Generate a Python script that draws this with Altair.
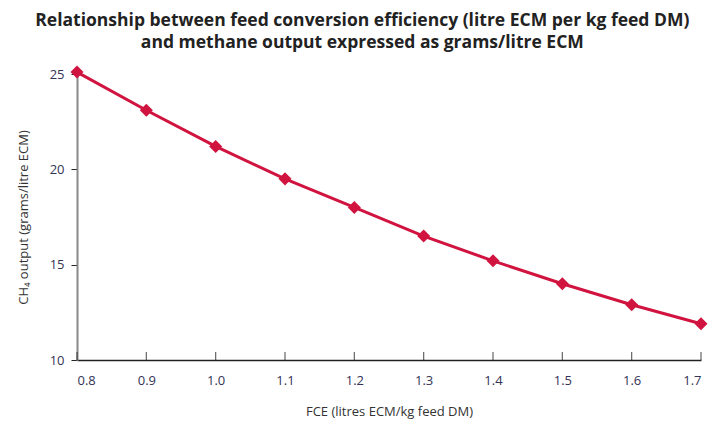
import altair as alt
import pandas as pd

fce = [0.8, 0.9, 1.0, 1.1, 1.2, 1.3, 1.4, 1.5, 1.6, 1.7]
ch4 = [25.1, 23.1, 21.2, 19.5, 18.0, 16.5, 15.2, 14.0, 12.9, 11.9]
x_ticks = [0.8, 0.9, 1.0, 1.1, 1.2, 1.3, 1.4, 1.5, 1.6, 1.7]
y_ticks = [10, 15, 20, 25]

df = pd.DataFrame({"fce": fce, "ch4": ch4})
tick_df = pd.DataFrame({"fce": x_ticks, "ch4": [10] * len(x_ticks)})

FONT = "Open Sans"
RED = "#D0143F"

x = alt.X("fce:Q", scale=alt.Scale(domain=[0.8, 1.7], nice=False, zero=False),
          axis=alt.Axis(values=x_ticks, format=".1f", title="FCE (litres ECM/kg feed DM)",
                        tickSize=0, labelPadding=14, titlePadding=18,
                        domainColor="#222222", domainWidth=1.5, grid=False))
y = alt.Y("ch4:Q", scale=alt.Scale(domain=[10, 25], nice=False, zero=False),
          axis=alt.Axis(values=y_ticks, title="CH₄ output (grams/litre ECM)",
                        tickSize=6, tickColor="#222222", labelPadding=7, titlePadding=19,
                        domainColor="#888888", domainWidth=2, grid=False))

line = alt.Chart(df).mark_line(color=RED, strokeWidth=3, clip=False).encode(x=x, y=y)
pts = alt.Chart(df).mark_point(shape="diamond", filled=True, color=RED, size=170,
                               opacity=1, clip=False).encode(x="fce:Q", y="ch4:Q")
ticks = alt.Chart(tick_df).mark_tick(orient="vertical", color="#222222", size=8,
                                     thickness=1.2, yOffset=-4).encode(x="fce:Q", y="ch4:Q")

chart = (ticks + line + pts).properties(
    width=624, height=286,
    padding={"left": 9, "right": 0, "top": 3, "bottom": 2},
    title=alt.TitleParams(
        ["Relationship between feed conversion efficiency (litre ECM per kg feed DM)",
         "and methane output expressed as grams/litre ECM"],
        font=FONT, fontSize=17.5, fontWeight="bold", color="#222222",
        anchor="middle", frame="bounds", offset=14, lineHeight=22.5),
).configure_view(stroke=None).configure_axis(
    grid=False, labelFont=FONT, titleFont=FONT, labelFontSize=13, titleFontSize=13,
    labelColor="#333355", titleColor="#333333", titleFontWeight="normal"
)

chart.save("out.html", embed_options={"renderer": "svg", "actions": False})
